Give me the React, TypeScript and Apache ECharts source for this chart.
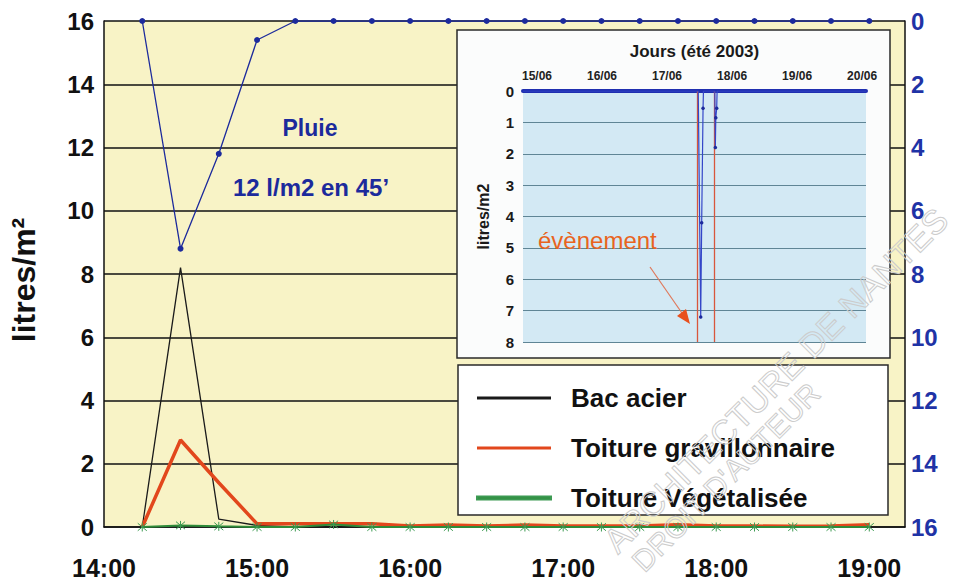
import React, { useEffect, useRef } from "react";
import * as echarts from "echarts";

const FONT = '"Liberation Sans", Arial, Helvetica, sans-serif';

// Main chart: 15-minute readings (17/06/2003)
const timeLabels = [
  "14:15", "14:30", "14:45", "15:00", "15:15", "15:30", "15:45", "16:00", "16:15", "16:30",
  "16:45", "17:00", "17:15", "17:30", "17:45", "18:00", "18:15", "18:30", "18:45", "19:00",
];
const rainValues = [0, 7.2, 4.2, 0.6, 0, 0, 0, 0, 0, 0, 0, 0, 0, 0, 0, 0, 0, 0, 0, 0];
const bacAcierValues = [0, 8.2, 0.25, 0.05, 0, 0, 0, 0, 0, 0, 0, 0, 0, 0, 0, 0, 0, 0, 0, 0];
const gravillonValues = [0, 2.75, 1.4, 0.1, 0.1, 0.1, 0.1, 0.03, 0.06, 0.03, 0.06, 0.03, 0.03, 0.03, 0.07, 0.03, 0.03, 0.02, 0.03, 0.07];
const vegetaliseeValues = [0, 0.05, 0.02, 0, 0, 0.08, 0, 0, 0, 0, 0, 0, 0, 0, 0, 0, 0, 0, 0, 0];

const leftTicks = { min: 0, max: 16, interval: 2 };
const hourLabels = ["14:00", "15:00", "16:00", "17:00", "18:00", "19:00"];

// Inset chart: days of June 2003
const insetDays = [14.785, 17.48, 17.518, 17.533, 17.554, 17.56, 17.735, 17.743, 17.75, 17.764, 17.77, 20.06];
const insetRain = [0, 0, 7.2, 4.2, 0.55, 0, 0, 1.8, 0.85, 0.55, 0, 0];
const insetDayTicks = [15, 16, 17, 18, 19, 20];
const insetEventDays = [17.46, 17.72];

const seriesNames = ["Bac acier", "Toiture gravillonnaire", "Toiture Végétalisée"];
const seriesColors = ["#1a1a1a", "#e2471c", "#2e8b3a"];
const RAIN_BLUE = "#1c2a9c";

const toMinutes = (s: string) => {
  const [h, m] = s.split(":").map(Number);
  return (h - 14) * 60 + m;
};

export default function App() {
  const ref = useRef<HTMLDivElement>(null);

  useEffect(() => {
    if (!ref.current) return;
    const chart = echarts.init(ref.current, undefined, { renderer: "svg" });
    const mins = timeLabels.map(toMinutes);
    const pairs = (vals: number[]) => vals.map((v, i) => [mins[i], v]);

    const option: any = {
      animation: false,
      backgroundColor: "#ffffff",
      textStyle: { fontFamily: FONT },
      grid: [
        {
          left: 100, right: 55, top: 21, bottom: 55,
          show: true, backgroundColor: "#f8f3c6", borderWidth: 0, z: 0,
        },
        {
          left: 523, width: 343, top: 91, height: 251,
          show: true, backgroundColor: "#d3e9f4", borderWidth: 0, z: 3,
        },
      ],
      xAxis: [
        {
          gridIndex: 0, type: "value", min: 0, max: 314, interval: 60,
          axisLine: { show: true, onZero: false, lineStyle: { color: "#111", width: 1.5 } },
          axisTick: { show: false },
          splitLine: { show: false },
          axisLabel: {
            margin: 28, fontSize: 25, fontWeight: "bold", color: "#111", fontFamily: FONT,
            showMaxLabel: false,
            formatter: (v: number) => hourLabels[Math.round(v / 60)] ?? "",
          },
        },
        {
          gridIndex: 1, type: "value", position: "top", min: 14.785, max: 20.06, z: 4,
          name: "Jours (été 2003)", nameLocation: "middle", nameGap: 31,
          nameTextStyle: { fontSize: 17, fontWeight: "bold", color: "#1a1a1a", fontFamily: FONT },
          axisLine: { show: true, onZero: false, lineStyle: { color: "#1f2fb0", width: 4 } },
          axisTick: { show: false },
          splitLine: { show: false },
          axisLabel: {
            customValues: insetDayTicks,
            margin: 9, fontSize: 12, fontWeight: "bold", color: "#222", fontFamily: FONT,
            formatter: (v: number) => `${v}/06`,
          },
        },
      ],
      yAxis: [
        {
          gridIndex: 0, type: "value", ...leftTicks,
          name: "litres/m²", nameLocation: "middle", nameGap: 64, nameRotate: 90,
          nameTextStyle: { fontSize: 32, fontWeight: "bold", color: "#111", fontFamily: FONT, padding: [0, 12, 0, 0] },
          axisLine: { show: true, lineStyle: { color: "#111", width: 1.5 } },
          axisTick: { show: false },
          splitLine: { show: true, lineStyle: { color: "#111", width: 1.5 } },
          axisLabel: { margin: 10, fontSize: 24, fontWeight: "bold", color: "#111", fontFamily: FONT },
        },
        {
          gridIndex: 0, type: "value", ...leftTicks, inverse: true, position: "right",
          axisLine: { show: true, lineStyle: { color: "#111", width: 1.5 } },
          axisTick: { show: false },
          splitLine: { show: false },
          axisLabel: { margin: 6, fontSize: 24, fontWeight: "bold", color: "#1f33a6", fontFamily: FONT },
        },
        {
          gridIndex: 1, type: "value", min: 0, max: 8, interval: 1, inverse: true, z: 4,
          name: "litres/m2", nameLocation: "middle", nameGap: 32, nameRotate: 90,
          nameTextStyle: { fontSize: 16, fontWeight: "bold", color: "#1a1a1a", fontFamily: FONT },
          axisLine: { show: false },
          axisTick: { show: false },
          splitLine: { show: true, lineStyle: { color: "#5f8595", width: 1 } },
          axisLabel: { margin: 9, fontSize: 15, fontWeight: "bold", color: "#1a1a1a", fontFamily: FONT },
        },
      ],
      legend: {
        data: seriesNames.map((n, i) => ({ name: n, icon: "rect", itemStyle: { color: seriesColors[i] } })),
        orient: "vertical", left: 476, top: 385, itemWidth: 74, itemHeight: 3, itemGap: 24,
        padding: 0, selectedMode: false, z: 10,
        textStyle: {
          fontSize: 26, fontWeight: "bold", color: "#111", fontFamily: FONT,
          lineHeight: 24, padding: [0, 0, 0, 15],
        },
      },
      series: [
        {
          name: seriesNames[0], type: "line", xAxisIndex: 0, yAxisIndex: 0,
          data: pairs(bacAcierValues), symbol: "none",
          lineStyle: { color: seriesColors[0], width: 1.3 }, itemStyle: { color: seriesColors[0] },
        },
        {
          name: seriesNames[1], type: "line", xAxisIndex: 0, yAxisIndex: 0,
          data: pairs(gravillonValues), symbol: "none",
          lineStyle: { color: seriesColors[1], width: 3.5 }, itemStyle: { color: seriesColors[1] },
        },
        {
          name: seriesNames[2], type: "line", xAxisIndex: 0, yAxisIndex: 0,
          data: pairs(vegetaliseeValues),
          symbol: "path://M0 0L10 10M10 0L0 10M5 -1L5 11", symbolSize: 9,
          lineStyle: { color: seriesColors[2], width: 2 },
          itemStyle: { color: "rgba(0,0,0,0)", borderColor: "#3c9a52", borderWidth: 1 },
        },
        {
          name: "Pluie", type: "line", xAxisIndex: 0, yAxisIndex: 1,
          data: pairs(rainValues), symbol: "circle", symbolSize: 6,
          lineStyle: { color: RAIN_BLUE, width: 1.3 }, itemStyle: { color: RAIN_BLUE },
        },
        {
          name: "Pluie (juin)", type: "line", xAxisIndex: 1, yAxisIndex: 2, z: 6,
          data: insetDays.map((d, i) => [d, insetRain[i]]),
          symbol: "circle", symbolSize: (v: number[]) => (v[1] > 0 ? 3.5 : 0),
          lineStyle: { color: "#3446c8", width: 1.2 }, itemStyle: { color: "#1c2a9c" },
          markLine: {
            silent: true, symbol: "none", label: { show: false },
            lineStyle: { color: "#d8563c", width: 1.3, type: "solid" },
            data: insetEventDays.map((d) => ({ xAxis: d })),
          },
        },
      ],
      graphic: [
        // inset frame
        {
          type: "rect", z: 1, shape: { x: 457, y: 30, width: 433, height: 328 },
          style: { fill: "#fbfcfc", stroke: "#2a2a2a", lineWidth: 1.5 },
        },
        // legend frame
        {
          type: "rect", z: 1, shape: { x: 458, y: 365, width: 430, height: 150 },
          style: { fill: "#ffffff", stroke: "#2a2a2a", lineWidth: 1.5 },
        },
        {
          type: "text", z: 5, x: 310, y: 128,
          style: { text: "Pluie", fontSize: 23, fontWeight: "bold", fontFamily: FONT, fill: RAIN_BLUE, align: "center", verticalAlign: "middle" },
        },
        {
          type: "text", z: 5, x: 311, y: 187,
          style: { text: "12 l/m2 en 45’", fontSize: 24, fontWeight: "bold", fontFamily: FONT, fill: RAIN_BLUE, align: "center", verticalAlign: "middle" },
        },
        {
          type: "text", z: 8, x: 538, y: 240,
          style: { text: "évènement", fontSize: 24, fontFamily: FONT, fill: "#e8641e", align: "left", verticalAlign: "middle" },
        },
        {
          type: "line", z: 8, shape: { x1: 650, y1: 267, x2: 684, y2: 316 },
          style: { stroke: "#e0785a", lineWidth: 1.2 },
        },
        {
          type: "polygon", z: 8, shape: { points: [[690, 324], [677, 316], [686, 309]] },
          style: { fill: "#e8501e" },
        },
        // watermark (kept inside the picture)
        {
          type: "text", z: 20, x: 942, y: 214, rotation: Math.PI / 4,
          style: {
            text: "ARCHITECTURE DE NANTES",
            fontSize: 34, fontFamily: FONT, align: "right", verticalAlign: "middle",
            fill: "rgba(0,0,0,0)", stroke: "#cccccc", lineWidth: 1,
          },
        },
        {
          type: "text", z: 20, x: 815, y: 388, rotation: Math.PI / 4,
          style: {
            text: "DROIT D'AUTEUR",
            fontSize: 30, fontFamily: FONT, align: "right", verticalAlign: "middle",
            fill: "rgba(0,0,0,0)", stroke: "#cccccc", lineWidth: 1,
          },
        },
      ],
    };

    chart.setOption(option);
    return () => chart.dispose();
  }, []);

  return (
    <div
      ref={ref}
      style={{ position: "fixed", left: 0, top: 0, width: 960, height: 582 }}
    />
  );
}
